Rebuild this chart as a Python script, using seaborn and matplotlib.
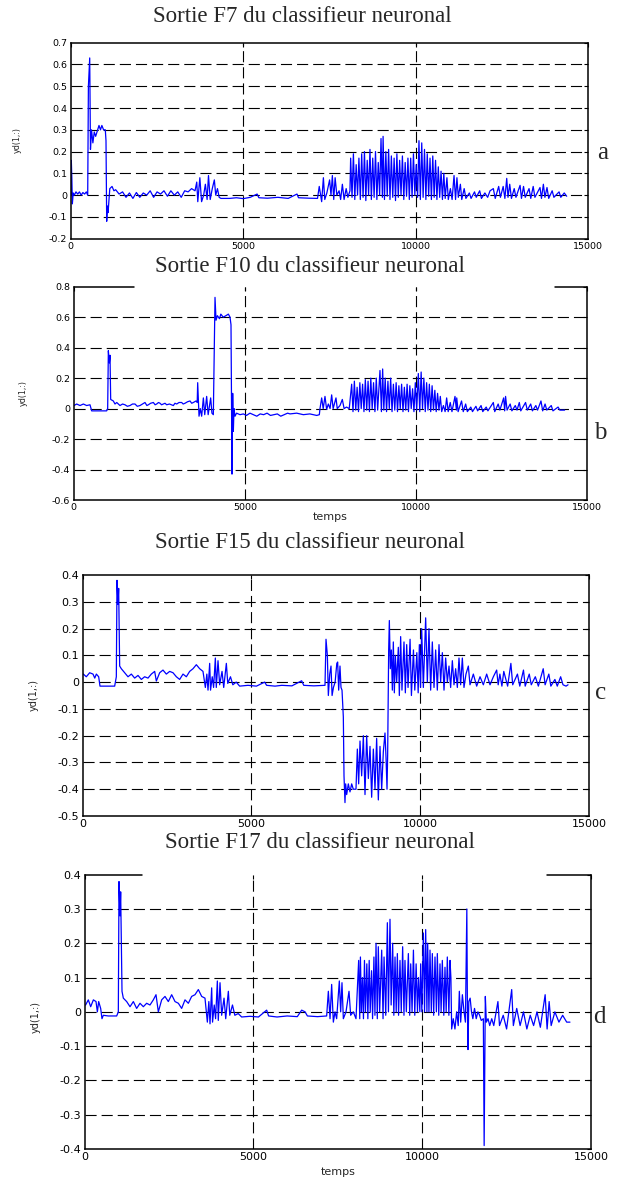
import matplotlib
matplotlib.use("Agg")
import matplotlib.pyplot as plt
import seaborn as sns
import pandas as pd

W, H = 617, 1178

# sortie F7 : (temps, yd)
f7 = [
    (0, 0.0), (15, 0.16), (30, 0.08), (45, -0.04), (70, 0.01), (100, 0.0), (150, 0.015), (200, 0.005),
    (250, 0.015), (300, 0.0), (350, 0.012), (400, 0.005), (450, 0.015), (490, 0.0),
    (510, 0.5), (548, 0.63), (570, 0.21), (600, 0.3), (640, 0.24), (680, 0.29), (720, 0.27), (780, 0.3),
    (817, 0.32), (860, 0.3), (900, 0.32), (950, 0.3), (1000, 0.3), (1020, 0.25), (1040, -0.12),
    (1060, -0.05), (1080, -0.08), (1130, 0.03), (1195, 0.04), (1250, 0.02), (1300, 0.025),
    (1400, 0.005), (1500, 0.015), (1600, -0.01), (1700, 0.01), (1800, -0.015), (1900, 0.012),
    (2000, -0.01), (2100, 0.01), (2200, 0.0), (2300, 0.02), (2400, -0.01), (2500, 0.015), (2600, 0.005),
    (2700, 0.02), (2800, -0.005), (2900, 0.02), (3000, 0.0), (3100, 0.015), (3200, -0.01), (3300, 0.02),
    (3400, 0.015), (3500, 0.03), (3600, 0.02),
    (3650, 0.06), (3680, -0.03), (3740, 0.08), (3790, -0.03), (3850, 0.0), (3900, 0.05), (3950, -0.02),
    (3990, 0.09), (4040, -0.02), (4100, 0.03), (4160, 0.07), (4200, 0.0), (4250, 0.03), (4300, -0.01),
    (4350, -0.015), (4600, -0.015), (4800, -0.012), (5000, -0.016), (5200, -0.01), (5400, 0.005),
    (5450, -0.012), (5700, -0.014), (6000, -0.01), (6300, -0.015), (6555, 0.005), (6600, -0.012),
    (6900, -0.014), (7150, -0.015),
    (7200, 0.04), (7270, -0.03), (7320, 0.08), (7360, -0.02), (7420, 0.01), (7500, 0.07), (7540, 0.0),
    (7580, 0.09), (7620, -0.02), (7660, 0.08), (7710, 0.0), (7775, 0.02), (7820, -0.02), (7870, 0.05),
    (7920, -0.02), (7980, 0.03), (8030, -0.01), (8090, 0.02),
    (8110, 0.17), (8150, -0.01), (8190, 0.19), (8230, -0.02), (8270, 0.14), (8310, 0.0), (8350, 0.17),
    (8390, -0.02), (8430, 0.19), (8470, -0.01), (8510, 0.2), (8550, -0.025), (8590, 0.16), (8630, 0.0),
    (8670, 0.21), (8710, -0.02), (8750, 0.17), (8790, -0.01), (8830, 0.2), (8870, -0.02), (8910, 0.15),
    (8950, 0.0), (8990, 0.26), (9030, -0.01), (9050, 0.27), (9090, -0.02), (9130, 0.2), (9170, -0.005),
    (9210, 0.21), (9250, -0.02), (9290, 0.18), (9330, -0.01), (9370, 0.17), (9410, -0.025), (9450, 0.19),
    (9490, -0.01), (9530, 0.16), (9570, 0.0), (9610, 0.18), (9650, -0.02), (9690, 0.15), (9730, -0.005),
    (9770, 0.17), (9810, -0.02), (9850, 0.17), (9890, -0.01), (9930, 0.19), (9970, 0.0), (10010, 0.14),
    (10050, -0.01), (10090, 0.25), (10130, -0.02), (10170, 0.24), (10210, -0.01), (10250, 0.21),
    (10290, -0.02), (10330, 0.19), (10370, -0.005), (10410, 0.17), (10450, -0.02), (10490, 0.18),
    (10530, -0.01), (10570, 0.16), (10610, -0.02), (10650, 0.13), (10690, -0.01), (10730, 0.11),
    (10770, -0.02), (10810, 0.1), (10850, -0.015),
    (10900, 0.08), (10940, -0.02), (11000, 0.03), (11050, -0.02), (11106, 0.09), (11150, -0.02),
    (11190, 0.08), (11230, -0.01), (11290, 0.05), (11330, -0.02), (11400, 0.03), (11450, -0.015),
    (11550, 0.01), (11600, -0.015), (11700, 0.015), (11750, -0.01), (11850, 0.02), (11900, -0.015),
    (12000, 0.01), (12080, -0.01), (12150, 0.02), (12245, 0.03), (12300, -0.015), (12400, 0.04),
    (12450, -0.01), (12530, 0.04), (12580, -0.015), (12633, 0.077), (12670, -0.01), (12720, 0.05),
    (12770, -0.015), (12850, 0.03), (12900, -0.01), (13020, 0.045), (13060, -0.015), (13120, 0.04),
    (13170, -0.01), (13280, 0.03), (13330, -0.015), (13400, 0.04), (13450, -0.01), (13598, 0.035),
    (13640, -0.015), (13695, 0.05), (13740, -0.01), (13800, 0.035), (13850, -0.015), (13950, 0.02),
    (14000, -0.01), (14150, 0.015), (14200, -0.01), (14300, 0.01), (14371, -0.005),
]

# sortie F10
f10 = [
    (0, 0.02), (12, 0.02), (90, 0.03), (187, 0.02), (285, 0.03), (382, 0.02), (479, 0.025), (528, -0.015),
    (700, -0.015), (966, -0.015), (995, 0.0), (1015, 0.38), (1044, 0.3), (1063, 0.35), (1083, 0.06),
    (1160, 0.05), (1209, 0.03), (1260, 0.04), (1355, 0.02), (1430, 0.03), (1501, 0.025), (1570, 0.015),
    (1647, 0.02), (1720, 0.03), (1793, 0.03), (1860, 0.015), (1939, 0.02), (2010, 0.03), (2085, 0.04),
    (2140, 0.02), (2183, 0.025), (2250, 0.035), (2329, 0.04), (2380, 0.025), (2426, 0.03), (2480, 0.04),
    (2524, 0.035), (2570, 0.025), (2621, 0.03), (2670, 0.035), (2718, 0.025), (2800, 0.03), (2913, 0.02),
    (2960, 0.035), (3010, 0.03), (3080, 0.04), (3156, 0.04), (3200, 0.03), (3254, 0.035), (3330, 0.045),
    (3400, 0.05), (3450, 0.035), (3497, 0.04), (3575, 0.05), (3610, 0.04),
    (3624, 0.17), (3663, -0.05), (3700, 0.0), (3740, -0.05), (3790, 0.07), (3830, -0.04), (3886, 0.08),
    (3930, -0.04), (4003, 0.07), (4040, -0.03), (4081, -0.04),
    (4110, 0.4), (4130, 0.73), (4160, 0.58), (4200, 0.61), (4260, 0.59), (4300, 0.62), (4370, 0.6),
    (4450, 0.61), (4520, 0.62), (4568, 0.6), (4597, 0.55), (4626, -0.43), (4646, 0.1), (4665, -0.15),
    (4685, 0.0), (4714, -0.05), (4760, -0.03), (4860, -0.04), (4957, -0.035), (5050, -0.045),
    (5150, -0.03), (5250, -0.04), (5350, -0.05), (5450, -0.035), (5550, -0.04), (5650, -0.03),
    (5750, -0.045), (5850, -0.04), (5950, -0.035), (6050, -0.05), (6150, -0.04), (6250, -0.03),
    (6320, -0.035), (6515, -0.03), (6710, -0.04), (6900, -0.035), (7100, -0.045), (7177, -0.04),
    (7196, 0.0), (7245, 0.07), (7290, 0.0), (7342, 0.08), (7390, -0.005), (7440, 0.03), (7490, 0.0),
    (7537, 0.09), (7580, 0.0), (7663, 0.07), (7700, 0.0), (7780, 0.02), (7848, 0.06), (7900, 0.0),
    (7970, 0.01), (8050, 0.0),
    (8121, 0.16), (8160, -0.02), (8200, 0.18), (8240, -0.01), (8280, 0.14), (8320, -0.02), (8360, 0.17),
    (8400, 0.0), (8440, 0.16), (8480, -0.02), (8520, 0.19), (8560, -0.01), (8600, 0.18), (8640, -0.02),
    (8680, 0.2), (8720, 0.0), (8760, 0.17), (8800, -0.02), (8840, 0.2), (8880, -0.01), (8948, 0.25),
    (8990, -0.02), (9026, 0.26), (9060, -0.01), (9100, 0.2), (9140, -0.02), (9180, 0.18), (9220, 0.0),
    (9260, 0.2), (9300, -0.02), (9340, 0.16), (9380, -0.01), (9420, 0.17), (9460, -0.02), (9500, 0.15),
    (9540, 0.0), (9580, 0.16), (9620, -0.02), (9660, 0.14), (9700, -0.01), (9740, 0.16), (9780, -0.02),
    (9820, 0.15), (9860, 0.0), (9900, 0.13), (9940, -0.02), (9980, 0.17), (10020, -0.01), (10068, 0.23),
    (10110, -0.02), (10150, 0.24), (10190, 0.0), (10230, 0.2), (10270, -0.02), (10310, 0.17),
    (10350, -0.01), (10390, 0.16), (10430, -0.02), (10470, 0.15), (10510, -0.01), (10550, 0.12),
    (10590, -0.02), (10630, 0.1), (10670, -0.01), (10710, 0.08), (10750, -0.02),
    (10800, 0.02), (10850, -0.02), (10895, 0.07), (10940, -0.02), (11000, 0.04), (11050, -0.02),
    (11139, 0.08), (11180, -0.01), (11190, 0.07), (11230, -0.02), (11330, 0.05), (11380, -0.02),
    (11450, 0.03), (11500, -0.02), (11600, 0.01), (11650, -0.02), (11750, 0.015), (11800, -0.015),
    (11900, 0.02), (11950, -0.02), (12050, 0.01), (12100, -0.015), (12200, 0.02), (12258, 0.04),
    (12300, -0.02), (12400, 0.03), (12450, -0.01), (12560, 0.07), (12590, -0.015), (12616, 0.08),
    (12660, -0.01), (12750, 0.03), (12800, -0.015), (12900, 0.02), (12950, -0.01), (13017, 0.04),
    (13060, -0.015), (13200, 0.04), (13250, -0.01), (13350, 0.03), (13400, -0.015), (13500, 0.02),
    (13550, -0.01), (13650, 0.05), (13700, -0.015), (13770, 0.03), (13820, -0.01), (13950, 0.02),
    (14000, -0.015), (14150, 0.01), (14200, -0.01), (14340, -0.01),
]

# sortie F15
f15 = [
    (0, 0.03), (22, 0.03), (110, 0.02), (209, 0.035), (308, 0.03), (360, 0.015), (407, 0.03), (476, 0.02),
    (515, -0.015), (700, -0.015), (950, -0.015), (999, 0.02), (1019, 0.38), (1048, 0.29), (1068, 0.35),
    (1098, 0.06), (1147, 0.05), (1246, 0.035), (1345, 0.02), (1444, 0.03), (1542, 0.015), (1641, 0.025),
    (1740, 0.01), (1838, 0.02), (1937, 0.015), (2036, 0.03), (2135, 0.04), (2184, 0.004), (2283, 0.035),
    (2381, 0.045), (2480, 0.03), (2579, 0.04), (2678, 0.035), (2777, 0.02), (2875, 0.01), (2974, 0.03),
    (3073, 0.02), (3171, 0.04), (3270, 0.05), (3369, 0.065), (3468, 0.05), (3566, 0.04),
    (3636, -0.02), (3680, 0.03), (3715, -0.03), (3764, 0.07), (3790, -0.03), (3840, 0.02), (3880, -0.02),
    (3932, 0.09), (3960, -0.02), (4011, 0.08), (4060, -0.01), (4130, 0.04), (4180, -0.02), (4258, 0.07),
    (4300, -0.005), (4380, 0.02), (4450, -0.01), (4550, 0.0), (4652, -0.015),
    (4900, -0.012), (5150, -0.015), (5393, 0.0), (5450, -0.012), (5700, -0.015), (5900, -0.012),
    (6200, -0.014), (6489, 0.005), (6550, -0.012), (6850, -0.014), (7180, -0.012),
    (7210, 0.16), (7250, 0.1), (7279, -0.05), (7320, 0.03), (7358, 0.06), (7390, -0.05), (7430, -0.02),
    (7480, 0.0), (7530, 0.07), (7555, 0.075), (7585, -0.03), (7624, 0.06), (7654, -0.02), (7684, -0.03),
    (7723, -0.13), (7743, -0.35), (7772, -0.45), (7792, -0.38), (7822, -0.42), (7871, -0.38),
    (7920, -0.41), (7970, -0.38), (8019, -0.4), (8098, -0.4), (8138, -0.25), (8177, -0.38), (8217, -0.22),
    (8266, -0.35), (8316, -0.2), (8365, -0.42), (8414, -0.2), (8464, -0.36), (8513, -0.24), (8562, -0.43),
    (8612, -0.25), (8661, -0.4), (8710, -0.21), (8760, -0.44), (8809, -0.24), (8859, -0.4), (8908, -0.26),
    (8957, -0.19), (8987, -0.28), (9017, -0.4), (9036, -0.27),
    (9066, 0.12), (9086, 0.23), (9115, 0.05), (9145, 0.12), (9175, -0.03), (9204, 0.15), (9234, -0.04),
    (9264, 0.1), (9303, 0.0), (9352, 0.13), (9382, -0.05), (9421, 0.17), (9460, -0.03), (9520, 0.15),
    (9560, -0.04), (9600, 0.14), (9640, -0.02), (9700, 0.16), (9740, -0.05), (9800, 0.12), (9840, -0.03),
    (9900, 0.11), (9940, -0.04), (9975, 0.14), (10010, -0.02),
    (10044, 0.2), (10093, -0.02), (10162, 0.24), (10211, 0.0), (10260, 0.2), (10310, -0.03),
    (10359, 0.15), (10409, -0.02), (10458, 0.12), (10507, -0.03), (10557, 0.14), (10606, 0.0),
    (10656, 0.11), (10705, -0.03), (10754, 0.09), (10804, 0.0), (10853, 0.06), (10902, -0.02),
    (10952, 0.08), (11001, -0.01), (11050, 0.05), (11100, -0.02), (11149, 0.09), (11198, -0.01),
    (11248, 0.09), (11297, -0.02), (11356, 0.03), (11426, 0.06), (11475, -0.01), (11574, 0.03),
    (11673, -0.015), (11772, 0.02), (11870, -0.01), (11969, 0.03), (12068, -0.01), (12167, 0.02),
    (12265, 0.045), (12310, -0.01), (12360, 0.03), (12420, -0.015), (12476, 0.04), (12590, -0.015),
    (12686, 0.07), (12740, -0.01), (12880, 0.03), (12950, -0.015), (13059, 0.045), (13110, -0.015),
    (13230, 0.03), (13290, -0.01), (13410, 0.02), (13500, -0.015), (13644, 0.05), (13700, -0.01),
    (13810, 0.03), (13870, -0.015), (13990, 0.01), (14060, -0.015), (14160, 0.02), (14230, -0.01),
    (14320, -0.015), (14380, -0.01),
]

# sortie F17
f17 = [
    (0, 0.02), (30, 0.02), (110, 0.035), (180, 0.015), (260, 0.035), (338, 0.03), (378, 0.0), (417, 0.03),
    (476, 0.01), (515, -0.02), (555, -0.01), (700, -0.012), (950, -0.012), (999, 0.0), (1019, 0.38),
    (1048, 0.28), (1068, 0.35), (1108, 0.06), (1147, 0.04), (1246, 0.03), (1345, 0.015), (1444, 0.03),
    (1542, 0.01), (1641, 0.025), (1740, 0.015), (1838, 0.025), (1937, 0.02), (2036, 0.035), (2115, 0.05),
    (2184, 0.0), (2283, 0.035), (2381, 0.045), (2480, 0.03), (2579, 0.05), (2678, 0.03), (2777, 0.025),
    (2875, 0.01), (2974, 0.035), (3073, 0.025), (3171, 0.045), (3270, 0.05), (3369, 0.065), (3468, 0.045),
    (3566, 0.04),
    (3636, -0.03), (3680, 0.03), (3715, -0.035), (3764, 0.07), (3790, -0.03), (3840, 0.02), (3880, -0.02),
    (3932, 0.09), (3960, -0.025), (4011, 0.085), (4060, -0.01), (4130, 0.04), (4180, -0.02), (4258, 0.06),
    (4300, -0.01), (4380, 0.02), (4450, -0.01), (4550, -0.005), (4652, -0.015),
    (4900, -0.013), (5150, -0.015), (5393, 0.005), (5450, -0.012), (5700, -0.015), (6000, -0.012),
    (6300, -0.014), (6430, 0.005), (6530, 0.0), (6600, -0.012), (6900, -0.014), (7170, -0.012),
    (7220, 0.06), (7270, -0.02), (7318, 0.08), (7368, -0.03), (7417, 0.0), (7466, -0.02), (7545, 0.09),
    (7585, 0.0), (7624, 0.085), (7664, -0.02), (7743, 0.0), (7832, 0.06), (7881, -0.01), (7960, 0.0),
    (8039, -0.02),
    (8118, 0.15), (8150, -0.02), (8170, 0.16), (8200, 0.0), (8230, 0.1), (8260, -0.02), (8290, 0.15),
    (8320, 0.0), (8360, 0.14), (8390, -0.02), (8430, 0.15), (8460, 0.0), (8500, 0.12), (8530, -0.02),
    (8570, 0.16), (8600, -0.01), (8632, 0.2), (8670, -0.02), (8700, 0.19), (8740, 0.0), (8800, 0.18),
    (8840, -0.02), (8870, 0.16), (8920, -0.01), (8968, 0.26), (9000, 0.0), (9046, 0.27), (9080, 0.02),
    (9125, 0.2), (9160, -0.01), (9195, 0.16), (9230, 0.0), (9264, 0.17), (9300, -0.01), (9342, 0.15),
    (9380, 0.0), (9421, 0.19), (9460, -0.01), (9490, 0.15), (9530, 0.0), (9590, 0.17), (9630, -0.01),
    (9660, 0.14), (9700, 0.0), (9740, 0.18), (9780, -0.01), (9820, 0.14), (9860, 0.0), (9890, 0.1),
    (9930, 0.0), (9955, 0.14), (9990, 0.0), (10034, 0.23), (10070, 0.0), (10103, 0.24), (10140, 0.0),
    (10162, 0.2), (10200, 0.0), (10231, 0.18), (10270, 0.0), (10300, 0.17), (10340, -0.01), (10379, 0.16),
    (10420, 0.0), (10448, 0.17), (10490, -0.01), (10527, 0.14), (10560, 0.0), (10596, 0.15),
    (10640, -0.01), (10675, 0.13), (10710, 0.0), (10744, 0.16), (10790, -0.01), (10824, 0.15),
    (10850, 0.1),
    (10873, -0.05), (10920, -0.02), (10970, -0.05), (11020, 0.0), (11067, -0.04), (11100, 0.06),
    (11140, -0.03), (11190, 0.05), (11240, 0.0), (11280, -0.03), (11322, 0.3), (11340, 0.0),
    (11357, -0.11), (11380, 0.03), (11420, 0.04), (11460, 0.0), (11500, -0.02), (11550, 0.01),
    (11600, -0.02), (11650, 0.0), (11700, -0.01), (11750, -0.025), (11811, -0.02), (11835, -0.39),
    (11870, 0.045), (11900, -0.03), (11950, -0.02), (12000, -0.04), (12060, -0.02), (12120, -0.04),
    (12243, 0.03), (12290, -0.04), (12400, -0.01), (12500, -0.05), (12651, 0.065), (12700, -0.04),
    (12800, 0.01), (12900, -0.04), (13000, 0.0), (13100, -0.05), (13200, -0.01), (13300, -0.04),
    (13400, 0.0), (13500, -0.045), (13642, 0.05), (13700, -0.05), (13760, 0.03), (13820, -0.04),
    (13930, 0.0), (14050, -0.03), (14160, -0.01), (14280, -0.03), (14377, -0.03),
]

titles = ["Sortie F7 du classifieur neuronal", "Sortie F10 du classifieur neuronal",
          "Sortie F15 du classifieur neuronal", "Sortie F17 du classifieur neuronal"]
letters = ["a", "b", "c", "d"]
x_ticks = [0, 5000, 10000, 15000]
x_labels = ["0", "5000", "10000", "15000"]
y_ticks_a = [-0.2, -0.1, 0, 0.1, 0.2, 0.3, 0.4, 0.5, 0.6, 0.7]
y_labels_a = ["-0.2", "-0.1", "0", "0.1", "0.2", "0.3", "0.4", "0.5", "0.6", "0.7"]
y_ticks_b = [-0.6, -0.4, -0.2, 0, 0.2, 0.4, 0.6, 0.8]
y_labels_b = ["-0.6", "-0.4", "-0.2", "0", "0.2", "0.4", "0.6", "0.8"]
y_ticks_c = [-0.5, -0.4, -0.3, -0.2, -0.1, 0, 0.1, 0.2, 0.3, 0.4]
y_labels_c = ["-0.5", "-0.4", "-0.3", "-0.2", "-0.1", "0", "0.1", "0.2", "0.3", "0.4"]
y_ticks_d = [-0.4, -0.3, -0.2, -0.1, 0, 0.1, 0.2, 0.3, 0.4]
y_labels_d = ["-0.4", "-0.3", "-0.2", "-0.1", "0", "0.1", "0.2", "0.3", "0.4"]

sns.set_style("white")
plt.rcParams["font.family"] = ["DejaVu Sans"]

fig = plt.figure(figsize=(W / 100, H / 100), dpi=100)

# pixel layout: axes box (left, right, top, bottom), title xy, letter xy, ylabel xy
layout = [
    dict(box=(70.8, 588.4, 42.7, 238.7), title=(302, 17), letter=(603, 153), ylab=(17.7, 140),
         xlab=None, size=6.8, gap=None),
    dict(box=(73.6, 587.2, 286.7, 500), title=(310, 267), letter=(600, 433), ylab=(23.6, 393),
         xlab=(330, 517.3), size=6.8, gap=(0.118, 0.937)),
    dict(box=(82.6, 589, 575, 816), title=(310, 542), letter=(601, 693), ylab=(33.5, 695),
         xlab=None, size=8, gap=None),
    dict(box=(84.6, 591, 874.7, 1149), title=(320, 843), letter=(599, 1017), ylab=(35.4, 1017),
         xlab=(337.8, 1172), size=8, gap=(0.113, 0.913)),
]
signals = [f7, f10, f15, f17]
yticks = [(y_ticks_a, y_labels_a), (y_ticks_b, y_labels_b), (y_ticks_c, y_labels_c), (y_ticks_d, y_labels_d)]


def fx(x):
    return x / W


def fy(y):
    return 1 - y / H


for sig, lay, (yt, yl), title, letter in zip(signals, layout, yticks, titles, letters):
    l, r, t, b = lay["box"]
    ax = fig.add_axes([l / W, 1 - b / H, (r - l) / W, (b - t) / H])
    df = pd.DataFrame(sig, columns=["temps", "yd"])
    sns.lineplot(data=df, x="temps", y="yd", ax=ax, color="#0000ff", lw=0.9,
                 estimator=None, sort=False)
    ax.set_xlim(0, 15000)
    ax.set_ylim(yt[0], yt[-1])
    ax.set_xticks(x_ticks)
    ax.set_xticklabels(x_labels)
    ax.set_yticks(yt)
    ax.set_yticklabels(yl)
    ax.set_xlabel("")
    ax.set_ylabel("")
    ax.set_axisbelow(True)
    ax.grid(True, color="black", lw=0.8, linestyle=(0, (10, 4.5)))
    for line, loc in zip(ax.get_ygridlines(), yt):
        if loc in (yt[0], yt[-1]):
            line.set_visible(False)
    for line, loc in zip(ax.get_xgridlines(), x_ticks):
        if loc in (0, 15000):
            line.set_visible(False)
    ax.tick_params(direction="in", length=3, width=0.8, top=True, right=True,
                   labelsize=lay["size"], pad=2.5, colors="black")
    for sp in ax.spines.values():
        sp.set_color("black")
        sp.set_linewidth(1.1)
    if lay["gap"] is not None:
        ax.spines["top"].set_visible(False)
        ax.axhline(yt[-1], 0, lay["gap"][0], color="black", lw=1.1, clip_on=False)
        ax.axhline(yt[-1], lay["gap"][1], 1, color="black", lw=1.1, clip_on=False)

    fig.text(fx(lay["title"][0]), fy(lay["title"][1]), title, ha="center", va="center",
             family="Liberation Serif", fontsize=16.5)
    fig.text(fx(lay["letter"][0]), fy(lay["letter"][1]), letter, ha="center", va="center",
             family="Liberation Serif", fontsize=18)
    fig.text(fx(lay["ylab"][0]), fy(lay["ylab"][1]), "yd(1,:)", ha="center", va="center",
             rotation=90, fontsize=lay["size"] - 1)
    if lay["xlab"] is not None:
        fig.text(fx(lay["xlab"][0]), fy(lay["xlab"][1]), "temps", ha="center", va="center",
                 fontsize=8)

fig.savefig("out.png", dpi=100)
